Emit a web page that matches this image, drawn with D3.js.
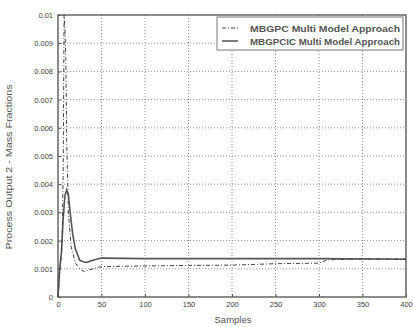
<!DOCTYPE html>
<html><head><meta charset="utf-8">
<script src="https://cdn.jsdelivr.net/npm/d3@7"></script>
<style>body{margin:0;background:#fff;}svg{display:block;font-family:"Liberation Sans",Arial,sans-serif;}</style>
</head><body>
<svg id="c" width="413" height="327"></svg>
<script>
const seriesNames = ["MBGPC Multi Model Approach", "MBGPCIC Multi Model Approach"];
const mbgpcSamples = [0,2,4,5,6,7,8,9,10,12,15,20,25,30,35,40,50,100,150,200,250,300,310,350,400];
const mbgpcValues  = [0,0.0009,0.0015,0.0025,0.0045,0.01,0.0095,0.0085,0.0055,0.003,0.0018,0.0012,0.001,0.0009,0.00095,0.001,0.00108,0.0011,0.00112,0.00113,0.00118,0.0012,0.00132,0.00135,0.00135];
const mbgpcicSamples = [0,1,2,4,6,8,10,12,14,17,20,25,30,33,40,50,100,200,300,400];
const mbgpcicValues  = [0,0.0005,0.001,0.0016,0.0028,0.0036,0.0038,0.0036,0.003,0.0022,0.0017,0.0013,0.00124,0.00123,0.0013,0.00138,0.00136,0.00136,0.00136,0.00134];
const xTicks = [0,50,100,150,200,250,300,350,400];
const yTicks = [0,0.001,0.002,0.003,0.004,0.005,0.006,0.007,0.008,0.009,0.01];
const yTickLabels = ["0","0.001","0.002","0.003","0.004","0.005","0.006","0.007","0.008","0.009","0.01"];

const svg = d3.select("#c");
const L=58,R=406,T=15,B=297;
const x = d3.scaleLinear().domain([0,400]).range([L,R]);
const y = d3.scaleLinear().domain([0,0.01]).range([B,T]);

// grid
svg.append("g").selectAll("line").data(xTicks.slice(1,-1)).join("line")
  .attr("x1",d=>x(d)).attr("x2",d=>x(d)).attr("y1",T).attr("y2",B)
  .attr("stroke","#777").attr("stroke-width",0.8).attr("stroke-dasharray","1,2");
svg.append("g").selectAll("line").data(yTicks.slice(1,-1)).join("line")
  .attr("y1",d=>y(d)).attr("y2",d=>y(d)).attr("x1",L).attr("x2",R)
  .attr("stroke","#777").attr("stroke-width",0.8).attr("stroke-dasharray","1,2");

// axes
const xa = svg.append("g").attr("transform",`translate(0,${B})`)
  .call(d3.axisBottom(x).tickValues(xTicks).tickSize(-3).tickPadding(5).tickFormat(d3.format("d")));
const ya = svg.append("g").attr("transform",`translate(${L},0)`)
  .call(d3.axisLeft(y).tickValues(yTicks).tickSize(-3).tickPadding(5).tickFormat((d,i)=>yTickLabels[i]));
[xa,ya].forEach(a=>{a.select(".domain").remove();a.selectAll("line").attr("stroke","#555");
  a.selectAll("text").attr("font-size",7.5).attr("fill","#444").attr("font-family","Liberation Sans, Arial, sans-serif");});

// frame
svg.append("rect").attr("x",L).attr("y",T).attr("width",R-L).attr("height",B-T)
  .attr("fill","none").attr("stroke","#666").attr("stroke-width",1.5);

const line = d3.line().x(d=>x(d[0])).y(d=>y(d[1]));
svg.append("path").datum(mbgpcicSamples.map((s,i)=>[s,mbgpcicValues[i]]))
  .attr("d",line).attr("fill","none").attr("stroke","#555").attr("stroke-width",1.6);
svg.append("path").datum(mbgpcSamples.map((s,i)=>[s,mbgpcValues[i]]))
  .attr("d",line).attr("fill","none").attr("stroke","#444").attr("stroke-width",1).attr("stroke-dasharray","4,2,1,2");

// legend
const lg = svg.append("g");
lg.append("rect").attr("x",217).attr("y",17).attr("width",186).attr("height",33)
  .attr("fill","#fff").attr("stroke","#777").attr("stroke-width",1);
const dashes=["4,2,1,2",null], widths=[1,1.4];
seriesNames.forEach((n,i)=>{
  const yy=28+i*13;
  lg.append("line").attr("x1",222).attr("x2",238).attr("y1",yy).attr("y2",yy)
    .attr("stroke","#444").attr("stroke-width",widths[i]).attr("stroke-dasharray",dashes[i]);
  lg.append("text").attr("x",250).attr("y",yy+3.5).attr("font-size",9.5).attr("font-weight","bold")
    .attr("textLength",150).attr("lengthAdjust","spacingAndGlyphs").attr("fill","#555").text(n);
});

svg.append("text").attr("x",233).attr("y",323).attr("text-anchor","middle").attr("font-size",9.5).attr("fill","#555").text("Samples");
svg.append("text").attr("transform","translate(12,167) rotate(-90)").attr("text-anchor","middle").attr("font-size",9.5).attr("fill","#555")
  .attr("textLength",165).attr("lengthAdjust","spacingAndGlyphs").text("Process Output 2 - Mass Fractions");
</script>
</body></html>
